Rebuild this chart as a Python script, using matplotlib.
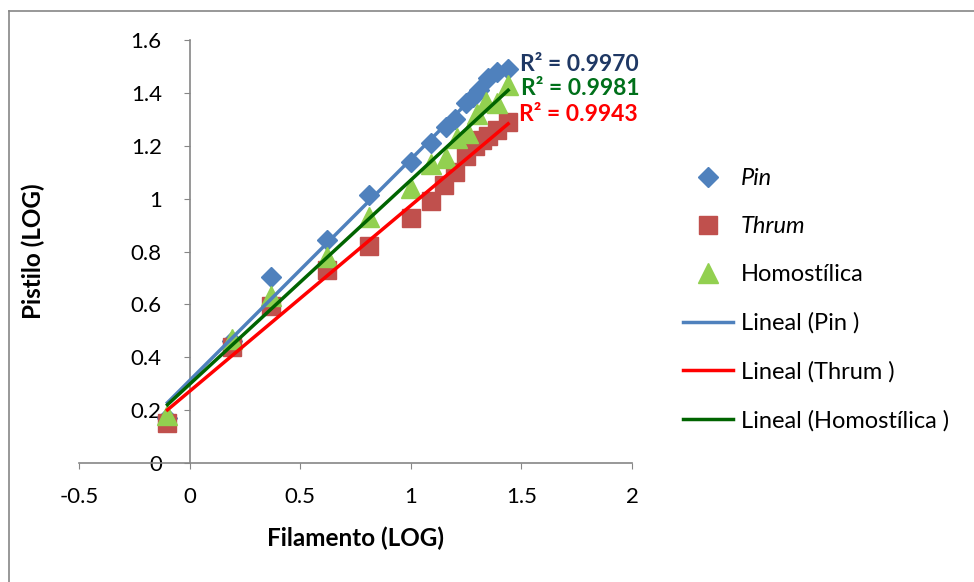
import matplotlib
matplotlib.use("Agg")
import matplotlib.pyplot as plt
from matplotlib.lines import Line2D
import numpy as np

plt.rcParams['font.family'] = ['Lato', 'DejaVu Sans']

x_pin = [-0.10, 0.19, 0.37, 0.62, 0.81, 1.00, 1.09, 1.16, 1.20, 1.25, 1.28, 1.31, 1.35, 1.39, 1.44]
y_pin = [0.17, 0.46, 0.705, 0.845, 1.015, 1.14, 1.21, 1.27, 1.30, 1.36, 1.385, 1.41, 1.455, 1.48, 1.49]

x_thrum = [-0.10, 0.19, 0.37, 0.62, 0.81, 1.00, 1.09, 1.15, 1.20, 1.25, 1.29, 1.32, 1.35, 1.39, 1.44]
y_thrum = [0.15, 0.44, 0.595, 0.73, 0.82, 0.925, 0.99, 1.05, 1.10, 1.16, 1.20, 1.22, 1.235, 1.26, 1.29]

x_homo = [-0.10, 0.19, 0.37, 0.62, 0.81, 1.00, 1.09, 1.16, 1.21, 1.26, 1.30, 1.34, 1.39, 1.44]
y_homo = [0.18, 0.47, 0.63, 0.78, 0.93, 1.04, 1.13, 1.155, 1.23, 1.25, 1.32, 1.365, 1.36, 1.43]

r2_labels = ["R² = 0.9970", "R² = 0.9981", "R² = 0.9943"]

x_ticks = [-0.5, 0, 0.5, 1, 1.5, 2]
y_ticks = [0, 0.2, 0.4, 0.6, 0.8, 1, 1.2, 1.4, 1.6]

W, H = 974, 582
fig = plt.figure(figsize=(W / 100, H / 100), dpi=100)
ax = fig.add_axes([79 / W, 1 - 463 / H, 553 / W, 423 / H])

grey = '#868686'

# outer chart border (top and left visible)
fig.add_artist(Line2D([9 / W, 1], [1 - 11 / H, 1 - 11 / H], color=grey, lw=1.2))
fig.add_artist(Line2D([9 / W, 9 / W], [0, 1 - 11 / H], color=grey, lw=1.2))


def trend(x, y):
    k, b = np.polyfit(x, y, 1)
    xs = np.array([min(x), max(x)])
    return xs, k * xs + b


ax.plot(x_pin, y_pin, 'D', color='#4F81BD', ms=10, ls='none', label='Pin', zorder=3)
ax.plot(x_thrum, y_thrum, 's', color='#C0504D', ms=13, ls='none', label='Thrum', zorder=3)
ax.plot(x_homo, y_homo, '^', color='#92D050', ms=14, ls='none', label='Homostílica', zorder=3)

xs, ys = trend(x_pin, y_pin)
ax.plot(xs, ys, color='#4F81BD', lw=2.5, label='Lineal (Pin )', zorder=4)
xs, ys = trend(x_thrum, y_thrum)
ax.plot(xs, ys, color='#FF0000', lw=2.5, label='Lineal (Thrum )', zorder=4)
xs, ys = trend(x_homo, y_homo)
ax.plot(xs, ys, color='#006400', lw=2.5, label='Lineal (Homostílica )', zorder=4)

ax.text(1.493, 1.509, r2_labels[0], color='#1F3864', fontsize=16.5, fontweight='bold', va='center', zorder=5)
ax.text(1.50, 1.418, r2_labels[1], color='#00701A', fontsize=16.5, fontweight='bold', va='center', zorder=5)
ax.text(1.489, 1.32, r2_labels[2], color='#FF0000', fontsize=16.5, fontweight='bold', va='center', zorder=5)

ax.set_xlim(-0.5, 2)
ax.set_ylim(0, 1.6)
ax.set_xticks(x_ticks)
ax.set_yticks(y_ticks)
ax.set_xticklabels([str(t) for t in x_ticks])
ax.set_yticklabels(['0', '0.2', '0.4', '0.6', '0.8', '1', '1.2', '1.4', '1.6'])

ax.spines['left'].set_position(('data', 0))
ax.spines['top'].set_visible(False)
ax.spines['right'].set_visible(False)
for s in ['left', 'bottom']:
    ax.spines[s].set_color(grey)
    ax.spines[s].set_linewidth(1.2)
ax.tick_params(axis='y', length=4, color=grey, pad=16, labelsize=16)
ax.tick_params(axis='x', length=4, color=grey, pad=13, labelsize=16)

ax.set_xlabel('Filamento (LOG)', fontsize=17.5, fontweight='bold', labelpad=14)
fig.text(33 / W, 1 - 251 / H, 'Pistilo (LOG)', rotation=90, fontsize=17.5,
         fontweight='bold', ha='center', va='center')

leg = fig.legend(loc='upper left', bbox_to_anchor=(683 / W, 1 - 168 / H), frameon=False,
                 fontsize=17, handlelength=2.1, handletextpad=0.34, labelspacing=1.15,
                 borderpad=0, borderaxespad=0)
for t in leg.get_texts()[:2]:
    t.set_style('italic')

fig.savefig('out.png', dpi=100)
